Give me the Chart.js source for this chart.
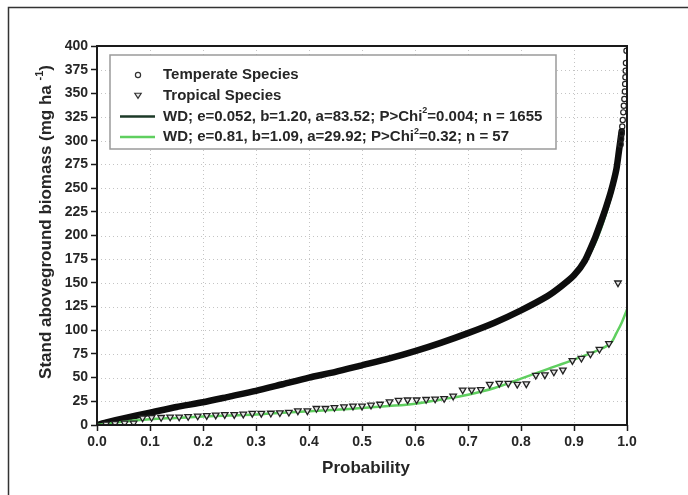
<!DOCTYPE html>
<html>
<head>
<meta charset="utf-8">
<script src="https://cdn.jsdelivr.net/npm/chart.js@4.4.1/dist/chart.umd.min.js"></script>
<style>
  html, body { margin: 0; padding: 0; background: #fff; }
  #c { display: block; }
</style>
</head>
<body>
<canvas id="c" width="688" height="495"></canvas>
<script>
// ---- Data ----
// Temperate species empirical curve (dense part, 1655 points shown as a band)
const tempProb    = [0, 0.02, 0.05, 0.10, 0.15, 0.20, 0.25, 0.30, 0.35, 0.40, 0.45, 0.50, 0.55, 0.60, 0.65, 0.70, 0.75, 0.80, 0.85, 0.875, 0.90, 0.92, 0.94, 0.95, 0.96, 0.97, 0.98, 0.985, 0.99];
const tempBiomass = [0, 3,    7,    13,   19,   24,   30,   36,   43,   50,   56,   63,   70,   78,   87,   97,   108,  121,  136,  146,   158,  173,  198,  213,  229,  247,  270,  290,   310];
// Temperate species sparse upper tail (individual circles)
const tempTailProb    = [0.988, 0.989, 0.990, 0.991, 0.992, 0.993, 0.994, 0.995, 0.996, 0.9965, 0.997, 0.9975, 0.998, 0.999];
const tempTailBiomass = [296,   302,   308,   315,   322,   330,   337,   344,   352,   360,    367,   374,    382,   395];
// Temperate fitted Weibull curve
const tempFitProb    = [0, 0.05, 0.10, 0.20, 0.30, 0.40, 0.50, 0.60, 0.70, 0.80, 0.85, 0.90, 0.93, 0.95, 0.97, 0.98, 0.99];
const tempFitBiomass = [0, 7,    13,   24,   36,   50,   63,   78,   97,   120,  135,  157,  180,  205,  240,  265,  300];
// Tropical species (57 plotting positions)
const tropProb = [0.017, 0.034, 0.052, 0.069, 0.086, 0.103, 0.121, 0.138, 0.155, 0.172, 0.190, 0.207, 0.224, 0.241, 0.259, 0.276, 0.293, 0.310, 0.328, 0.345, 0.362, 0.379, 0.397, 0.414, 0.431, 0.448, 0.466, 0.483, 0.500, 0.517, 0.534, 0.552, 0.569, 0.586, 0.603, 0.621, 0.638, 0.655, 0.672, 0.690, 0.707, 0.724, 0.741, 0.759, 0.776, 0.793, 0.810, 0.828, 0.845, 0.862, 0.879, 0.897, 0.914, 0.931, 0.948, 0.966, 0.983];
const tropBiomass = [1, 1.5, 2, 2, 7.5, 8, 8, 8.5, 8.5, 9, 9.5, 10, 10.5, 11, 11, 11.5, 12.3, 12.3, 12.5, 13, 13.5, 15, 15, 17.5, 17.5, 18.5, 19.3, 20, 20, 21, 22, 24.5, 26, 26.5, 26.5, 27, 27.5, 28, 30.5, 37, 37, 37.5, 43, 44, 44, 43, 43.5, 52.5, 53, 56, 58, 68, 70.5, 75, 80, 86, 150];
// Tropical fitted Weibull curve
const tropFitProb    = [0, 0.05, 0.10, 0.15, 0.20, 0.25, 0.30, 0.35, 0.40, 0.45, 0.50, 0.55, 0.60, 0.65, 0.70, 0.75, 0.80, 0.85, 0.90, 0.95, 0.97, 0.98, 0.99, 1.0];
const tropFitBiomass = [0, 3.5,  6,    7.5,  9,    10,   11,   13,   14.5, 16,   18,   20,   22.5, 27,   32,   39,   49,   59,   69,   80,   87,   97,   108,  122];

// Axis ticks
const xTicks = [0, 0.1, 0.2, 0.3, 0.4, 0.5, 0.6, 0.7, 0.8, 0.9, 1.0];
const yTicks = [0, 25, 50, 75, 100, 125, 150, 175, 200, 225, 250, 275, 300, 325, 350, 375, 400];

// Text
const legendTemperate = 'Temperate Species';
const legendTropical = 'Tropical Species';
const legendFit1 = [['WD; e=0.052, b=1.20, a=83.52; P>Chi', false], ['2', true], ['=0.004; n = 1655', false]];
const legendFit2 = [['WD; e=0.81, b=1.09, a=29.92; P>Chi', false], ['2', true], ['=0.32; n = 57', false]];
const xTitle = 'Probability';
const yTitle = [['Stand aboveground biomass (mg ha ', false], ['-1', true], [')', false]];

const FONT = '"Liberation Sans", Arial, Helvetica, sans-serif';
const TEXT = '#262626';
const DARK_FIT = '#1c3a28';
const LIGHT_FIT = '#5fcf5f';

function pts(xs, ys) { return xs.map((x, i) => ({ x: x, y: ys[i] })); }

function drawRich(ctx, parts, x, y, size, align) {
  const supSize = Math.round(size * 0.62);
  let total = 0;
  parts.forEach(([t, sup]) => {
    ctx.font = 'bold ' + (sup ? supSize : size) + 'px ' + FONT;
    total += ctx.measureText(t).width;
  });
  let cx = align === 'center' ? x - total / 2 : x;
  ctx.textAlign = 'left';
  ctx.textBaseline = 'middle';
  parts.forEach(([t, sup]) => {
    ctx.font = 'bold ' + (sup ? supSize : size) + 'px ' + FONT;
    ctx.fillText(t, cx, sup ? y - size * 0.38 : y);
    cx += ctx.measureText(t).width;
  });
}

function downTriangle(ctx, x, y, r) {
  ctx.beginPath();
  ctx.moveTo(x - r, y - r * 0.7);
  ctx.lineTo(x + r, y - r * 0.7);
  ctx.lineTo(x, y + r * 0.9);
  ctx.closePath();
}

const deco = {
  id: 'deco',
  beforeDatasetsDraw(chart) {
    const ctx = chart.ctx, a = chart.chartArea, xs = chart.scales.x, ys = chart.scales.y;
    ctx.save();
    ctx.strokeStyle = '#c4c4c4';
    ctx.lineWidth = 1;
    ctx.setLineDash([1, 3]);
    xTicks.forEach(v => {
      const px = Math.round(xs.getPixelForValue(v)) + 0.5;
      if (px <= a.left + 2 || px >= a.right - 2) return;
      ctx.beginPath(); ctx.moveTo(px, a.top); ctx.lineTo(px, a.bottom); ctx.stroke();
    });
    yTicks.forEach(v => {
      const py = Math.round(ys.getPixelForValue(v)) + 0.5;
      if (py <= a.top + 2 || py >= a.bottom - 2) return;
      ctx.beginPath(); ctx.moveTo(a.left, py); ctx.lineTo(a.right, py); ctx.stroke();
    });
    ctx.restore();
  },
  afterDatasetsDraw(chart) {
    const ctx = chart.ctx, a = chart.chartArea;
    ctx.save();
    // plot frame
    ctx.strokeStyle = '#1a1a1a';
    ctx.lineWidth = 2;
    ctx.strokeRect(a.left, a.top, a.right - a.left, a.bottom - a.top);

    // legend box
    const lx = 110, ly = 55, lw = 446, lh = 94;
    ctx.fillStyle = '#fff';
    ctx.fillRect(lx, ly, lw, lh);
    ctx.strokeStyle = '#9a9a9a';
    ctx.lineWidth = 1.5;
    ctx.strokeRect(lx, ly, lw, lh);

    const tx = 163;
    const rows = [75, 96, 116.5, 137];
    // circle marker
    ctx.strokeStyle = '#333';
    ctx.lineWidth = 1.2;
    ctx.beginPath(); ctx.arc(138, rows[0], 2.6, 0, Math.PI * 2); ctx.stroke();
    // triangle marker
    ctx.fillStyle = '#e8e8e8';
    downTriangle(ctx, 138, rows[1] - 0.5, 3.2); ctx.fill(); ctx.stroke();
    // line markers
    ctx.lineWidth = 2.5;
    ctx.strokeStyle = DARK_FIT;
    ctx.beginPath(); ctx.moveTo(120, rows[2]); ctx.lineTo(155, rows[2]); ctx.stroke();
    ctx.strokeStyle = LIGHT_FIT;
    ctx.beginPath(); ctx.moveTo(120, rows[3]); ctx.lineTo(155, rows[3]); ctx.stroke();

    ctx.fillStyle = TEXT;
    drawRich(ctx, [[legendTemperate, false]], tx, rows[0], 15, 'left');
    drawRich(ctx, [[legendTropical, false]], tx, rows[1], 15, 'left');
    drawRich(ctx, legendFit1, tx, rows[2], 15, 'left');
    drawRich(ctx, legendFit2, tx, rows[3], 15, 'left');
    ctx.restore();
  },
  afterDraw(chart) {
    const ctx = chart.ctx;
    ctx.save();
    ctx.fillStyle = TEXT;
    // x title
    drawRich(ctx, [[xTitle, false]], 366, 468, 17, 'center');
    // y title
    ctx.translate(46, 222);
    ctx.rotate(-Math.PI / 2);
    drawRich(ctx, yTitle, 0, 0, 17, 'center');
    ctx.restore();
    // outer figure frame
    ctx.save();
    ctx.strokeStyle = '#333';
    ctx.lineWidth = 1.5;
    ctx.beginPath();
    ctx.moveTo(8.5, 495); ctx.lineTo(8.5, 7.5); ctx.lineTo(688, 7.5);
    ctx.stroke();
    ctx.restore();
  }
};

new Chart(document.getElementById('c'), {
  type: 'scatter',
  data: {
    datasets: [
      {
        label: 'Tropical Species',
        data: pts(tropProb, tropBiomass),
        pointStyle: 'triangle',
        rotation: 180,
        pointRadius: 3.8,
        borderColor: '#222222',
        backgroundColor: '#e4e4e4',
        borderWidth: 1.3,
        showLine: false,
        order: 1
      },
      {
        label: 'Tropical fit',
        data: pts(tropFitProb, tropFitBiomass),
        showLine: true,
        borderColor: LIGHT_FIT,
        borderWidth: 2.5,
        pointRadius: 0,
        tension: 0.35,
        fill: false,
        order: 2
      },
      {
        label: 'Temperate tail',
        data: pts(tempTailProb, tempTailBiomass),
        pointStyle: 'circle',
        pointRadius: 2.6,
        borderColor: '#222',
        backgroundColor: 'rgba(255,255,255,0)',
        borderWidth: 1.2,
        showLine: false,
        order: 3
      },
      {
        label: 'Temperate Species',
        data: pts(tempProb, tempBiomass),
        showLine: true,
        borderColor: '#0d0d0d',
        borderWidth: 6.5,
        pointRadius: 0,
        tension: 0.2,
        borderCapStyle: 'round',
        fill: false,
        order: 4
      },
      {
        label: 'Temperate fit',
        data: pts(tempFitProb, tempFitBiomass),
        showLine: true,
        borderColor: '#3f8f4f',
        borderWidth: 2,
        pointRadius: 0,
        tension: 0.2,
        fill: false,
        order: 5
      }
    ]
  },
  options: {
    responsive: false,
    animation: false,
    devicePixelRatio: 1,
    layout: { padding: { top: 46, right: 61, left: 0, bottom: 0 } },
    plugins: { legend: { display: false }, tooltip: { enabled: false } },
    elements: { point: { hoverRadius: 0 } },
    scales: {
      x: {
        type: 'linear', min: 0, max: 1,
        afterBuildTicks(s) { s.ticks = xTicks.map(v => ({ value: v })); },
        afterFit(s) { s.height = 70; },
        grid: { drawOnChartArea: false, drawTicks: true, tickLength: 6, tickColor: '#1a1a1a', tickWidth: 1.5 },
        border: { display: false },
        ticks: {
          padding: 3,
          color: TEXT,
          font: { family: FONT, size: 14, weight: 'bold' },
          maxRotation: 0,
          callback: v => Number(v).toFixed(1)
        }
      },
      y: {
        type: 'linear', min: 0, max: 400,
        afterBuildTicks(s) { s.ticks = yTicks.map(v => ({ value: v })); },
        afterFit(s) { s.width = 97; },
        grid: { drawOnChartArea: false, drawTicks: true, tickLength: 6, tickColor: '#1a1a1a', tickWidth: 1.5 },
        border: { display: false },
        ticks: {
          padding: 3,
          color: TEXT,
          font: { family: FONT, size: 14, weight: 'bold' },
          callback: v => String(v)
        }
      }
    }
  },
  plugins: [deco]
});
</script>
</body>
</html>
